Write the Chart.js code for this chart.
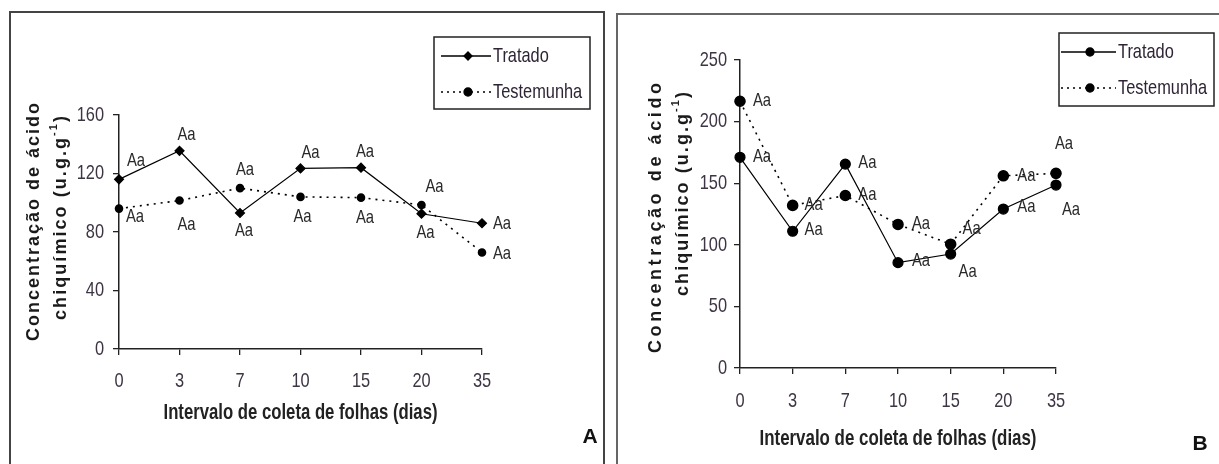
<!DOCTYPE html>
<html>
<head>
<meta charset="utf-8">
<script src="https://cdn.jsdelivr.net/npm/chart.js@4.4.1/dist/chart.umd.min.js"></script>
<style>
    body { margin: 0; background: #fff; width: 1219px; height: 464px; overflow: hidden; position: relative; }
    .frame { position: absolute; border: 2px solid #444; box-sizing: border-box; }
    canvas { position: absolute; top: 0; }
</style>
</head>
<body>
<div class="frame" style="left:9px; top:11px; width:596px; height:470px;"></div>
<div class="frame" style="left:616px; top:13px; width:610px; height:470px; border-color:#666;"></div>
<canvas id="chartA" width="610" height="464" style="left:0"></canvas>
<canvas id="chartB" width="609" height="464" style="left:610px"></canvas>

<script>
// collection intervals (days)
const dias = ['0', '3', '7', '10', '15', '20', '35'];

// panel A
const tratadoA = [116, 135.5, 93, 123.5, 124, 92.5, 86];
const testemunhaA = [96, 101.5, 110, 104, 103.5, 98.5, 66];
const ticksA = [0, 40, 80, 120, 160];
const letrasTratadoA = ['Aa', 'Aa', 'Aa', 'Aa', 'Aa', 'Aa', 'Aa'];
const letrasTestemunhaA = ['Aa', 'Aa', 'Aa', 'Aa', 'Aa', 'Aa', 'Aa'];

// panel B
const tratadoB = [171, 111, 165.5, 85.5, 92.5, 129, 148.5];
const testemunhaB = [216.5, 132, 140, 116.5, 100.5, 156, 158];
const ticksB = [0, 50, 100, 150, 200, 250];
const letrasTratadoB = ['Aa', 'Aa', 'Aa', 'Aa', 'Aa', 'Aa', 'Aa'];
const letrasTestemunhaB = ['Aa', 'Aa', 'Aa', 'Aa', 'Aa', 'Aa', 'Aa'];

// where each "Aa" sits relative to its point (px)
const offTratadoA = [[17,-19],[7,-16],[4,18],[10,-16],[4,-16],[4,19],[20,1]];
const offTestemunhaA = [[16,8],[7,24],[5,-18],[2,20],[4,20],[13,-18],[20,1]];
const offTratadoB = [[22,-1],[21,-1],[22,-1],[23,-2],[17,18],[23,-2],[15,25]];
const offTestemunhaB = [[22,-1],[21,-1],[22,-1],[23,-1],[21,-15],[23,0],[8,-30]];

const SANS = "'Liberation Sans', Arial, sans-serif";
const TICK_COLOR = '#3d3444';
const SQUEEZE = 0.78;   // no narrow font installed, so text is squeezed by hand

function drawNarrow(ctx, text, x, y, align) {
    ctx.save();
    ctx.translate(x, y);
    ctx.scale(SQUEEZE, 1);
    ctx.textAlign = align || 'center';
    ctx.textBaseline = 'middle';
    ctx.fillText(text, 0, 0);
    ctx.restore();
}

function drawFitted(ctx, text, cx, cy, width) {
    const w = ctx.measureText(text).width;
    ctx.save();
    ctx.translate(cx, cy);
    ctx.scale(width / w, 1);
    ctx.textAlign = 'center';
    ctx.textBaseline = 'middle';
    ctx.fillText(text, 0, 0);
    ctx.restore();
}

function drawSpaced(ctx, parts, cx, cy, length) {
    // letters spread evenly so the line covers the given length
    const big = 'bold 18px ' + SANS, small = 'bold 11px ' + SANS;
    let natural = 0, count = 0;
    parts.forEach(p => {
        ctx.font = p.sup ? small : big;
        natural += ctx.measureText(p.t).width;
        count += p.t.length;
    });
    const gap = (length - natural) / (count - 1);
    let x = cx - length / 2;
    ctx.textBaseline = 'middle';
    ctx.textAlign = 'left';
    parts.forEach(p => {
        ctx.font = p.sup ? small : big;
        for (const ch of p.t) {
            ctx.fillText(ch, x, p.sup ? cy - 7 : cy);
            x += ctx.measureText(ch).width + gap;
        }
    });
}

function makeChart(canvasId, tratado, testemunha, ticks, letras, offsets, look) {
    const ctx = document.getElementById(canvasId).getContext('2d');

    const extras = {
        id: 'extras',
        afterDatasetsDraw(chart) {
            const c = chart.ctx;
            const area = chart.chartArea;
            c.save();

            // tick labels
            c.font = '21px ' + SANS;
            c.fillStyle = TICK_COLOR;
            const xs = chart.scales.x, ys = chart.scales.y;
            dias.forEach((d, i) => drawNarrow(c, d, xs.getPixelForTick(i), area.bottom + look.xTickGap));
            ticks.forEach(v => drawNarrow(c, String(v), area.left - look.yTickGap, ys.getPixelForValue(v), 'right'));

            // y title (two rotated lines)
            c.fillStyle = '#1a1a1a';
            look.yTitle.forEach(line => {
                c.save();
                c.translate(line.x, line.cy);
                c.rotate(-Math.PI / 2);
                drawSpaced(c, line.parts, 0, 0, line.len);
                c.restore();
            });

            // x title
            c.font = 'bold 22px ' + SANS;
            c.fillStyle = '#222';
            drawFitted(c, 'Intervalo de coleta de folhas (dias)', (area.left + area.right) / 2,
                area.bottom + look.xTitleGap, look.xTitleWidth);

            // "Aa" labels
            c.font = '19px ' + SANS;
            c.fillStyle = '#2a2a2a';
            [0, 1].forEach(d => {
                chart.getDatasetMeta(d).data.forEach((pt, i) => {
                    const o = offsets[d][i];
                    drawNarrow(c, letras[d][i], pt.x + o[0], pt.y + o[1]);
                });
            });

            // legend
            const lg = look.legend;
            c.strokeStyle = '#222';
            c.lineWidth = 1.5;
            c.strokeRect(lg.x, lg.y, lg.w, lg.h);
            const rows = [
                { label: 'Tratado', dash: [], y: lg.y + lg.row1, style: look.styles[0] },
                { label: 'Testemunha', dash: [2, 4], y: lg.y + lg.row2, style: look.styles[1] }
            ];
            rows.forEach(r => {
                c.beginPath();
                c.setLineDash(r.dash);
                c.lineWidth = 1.3;
                c.strokeStyle = '#000';
                c.moveTo(lg.x + lg.lineFrom, r.y);
                c.lineTo(lg.x + lg.lineTo, r.y);
                c.stroke();
                c.setLineDash([]);
                c.fillStyle = '#000';
                Chart.helpers.drawPoint(c, { pointStyle: r.style, radius: 4, borderWidth: 1 },
                    lg.x + lg.marker, r.y);
                c.fillStyle = '#2e2435';
                c.font = '21px ' + SANS;
                drawNarrow(c, r.label, lg.x + lg.lineTo + 2, r.y, 'left');
            });

            // panel letter
            c.font = 'bold 21px ' + SANS;
            c.fillStyle = '#111';
            c.textAlign = 'center';
            c.textBaseline = 'middle';
            c.fillText(look.letter, look.letterX, look.letterY);
            c.restore();
        }
    };

    const axisGrid = {
        display: true,
        drawOnChartArea: false,
        drawTicks: true,
        tickLength: 6,
        color: '#222',
        lineWidth: 1.3
    };

    return new Chart(ctx, {
        type: 'line',
        data: {
            labels: dias,
            datasets: [{
                label: 'Tratado',
                data: tratado,
                borderColor: '#000',
                borderWidth: 1.2,
                pointStyle: look.styles[0],
                pointRadius: look.radius[0],
                pointBackgroundColor: '#000',
                pointBorderColor: '#000',
                tension: 0
            }, {
                label: 'Testemunha',
                data: testemunha,
                borderColor: '#000',
                borderWidth: 1.6,
                borderDash: [2, 5],
                pointStyle: look.styles[1],
                pointRadius: look.radius[1],
                pointBackgroundColor: '#000',
                pointBorderColor: '#000',
                tension: 0
            }]
        },
        options: {
            responsive: false,
            animation: false,
            layout: { padding: look.padding },
            plugins: {
                legend: { display: false },
                tooltip: { enabled: false }
            },
            scales: {
                x: {
                    offset: false,
                    grid: axisGrid,
                    border: { color: '#222', width: 1.5 },
                    ticks: { display: false },
                    afterFit(scale) { scale.height = look.xHeight; }
                },
                y: {
                    min: ticks[0],
                    max: ticks[ticks.length - 1],
                    afterBuildTicks(scale) { scale.ticks = ticks.map(v => ({ value: v })); },
                    grid: axisGrid,
                    border: { color: '#222', width: 1.5 },
                    ticks: { display: false },
                    afterFit(scale) { scale.width = look.yWidth; }
                }
            }
        },
        plugins: [extras]
    });
}

const supLine = [{ t: 'chiquímico (u.g.g' }, { t: '-1', sup: true }, { t: ')' }];

makeChart('chartA', tratadoA, testemunhaA, ticksA,
    [letrasTratadoA, letrasTestemunhaA], [offTratadoA, offTestemunhaA], {
    padding: { left: 0, right: 128, top: 115, bottom: 0 },
    yWidth: 119,
    xHeight: 115,
    xTickGap: 32,
    yTickGap: 15,
    styles: ['rectRot', 'circle'],
    radius: [4.5, 3.5],
    yTitle: [
        { x: 34, cy: 222, len: 238, parts: [{ t: 'Concentração de ácido' }] },
        { x: 61, cy: 218, len: 204, parts: supLine }
    ],
    xTitleGap: 64,
    xTitleWidth: 274,
    legend: { x: 434, y: 37, w: 156, h: 72, row1: 19, row2: 55, lineFrom: 7, lineTo: 57, marker: 34 },
    letter: 'A', letterX: 590, letterY: 437
});

makeChart('chartB', tratadoB, testemunhaB, ticksB,
    [letrasTratadoB, letrasTestemunhaB], [offTratadoB, offTestemunhaB], {
    padding: { left: 0, right: 163, top: 60, bottom: 0 },
    yWidth: 130,
    xHeight: 96,
    xTickGap: 33,
    yTickGap: 13,
    styles: ['circle', 'circle'],
    radius: [5, 5],
    yTitle: [
        { x: 46, cy: 218, len: 270, parts: [{ t: 'Concentração de ácido' }] },
        { x: 73, cy: 194, len: 204, parts: supLine }
    ],
    xTitleGap: 71,
    xTitleWidth: 277,
    legend: { x: 449, y: 33, w: 155, h: 73, row1: 19, row2: 55, lineFrom: 2, lineTo: 57, marker: 31 },
    letter: 'B', letterX: 590, letterY: 444
});
</script>
</body>
</html>
